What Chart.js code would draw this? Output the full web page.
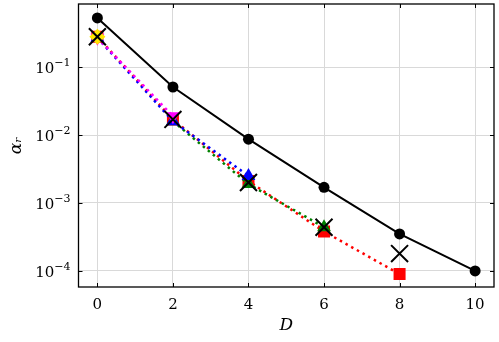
<!DOCTYPE html>
<html>
<head>
<meta charset="utf-8">
<script src="https://cdn.jsdelivr.net/npm/chart.js@4/dist/chart.umd.min.js"></script>
<style>
  html, body { margin: 0; padding: 0; background: #fff; }
  #wrap { width: 499px; height: 342px; }
</style>
</head>
<body>
<div id="wrap"><canvas id="c"></canvas></div>
<script>
// values
const dAll = [0, 2, 4, 6, 8, 10];
const alphaCircle = [0.53, 0.051, 0.0087, 0.0017, 0.00035, 0.0001];

const dCross = [0, 2, 4, 6, 8];
const alphaCross = [0.28, 0.017, 0.0020, 0.00044, 0.00018];

const dRed = [0, 2, 4, 6, 8];
const alphaRed = [0.28, 0.017, 0.0021, 0.00038, 0.00009];

const dGreen = [2, 4, 6];
const alphaGreen = [0.016, 0.0019, 0.00044];

const dBlue = [0, 2, 4];
const alphaBlue = [0.27, 0.016, 0.0025];

const dMagenta = [0, 2];
const alphaMagenta = [0.27, 0.019];

const dYellow = [0];
const alphaYellow = [0.28];

const yTicks = [1e-4, 1e-3, 1e-2, 1e-1];
const yTickExp = ["−4", "−3", "−2", "−1"];
const xTicks = [0, 2, 4, 6, 8, 10];

const pts = (xs, ys) => xs.map((x, i) => ({ x, y: ys[i] }));
const FONT = "'DejaVu Serif', serif";

function dotted(label, xs, ys, color, style, radius, rotation) {
  return {
    label, data: pts(xs, ys),
    borderColor: color, backgroundColor: color,
    borderWidth: 2.5, borderDash: [2.5, 4], borderCapStyle: "butt",
    pointStyle: style, pointRadius: radius, pointRotation: rotation || 0,
    pointBorderWidth: 0, pointBackgroundColor: color
  };
}

// frame + inward ticks + 10^n labels, like the matplotlib box
const framePlugin = {
  id: "frame",
  afterDraw(chart) {
    const { ctx, chartArea: a, scales } = chart;
    ctx.save();
    ctx.strokeStyle = "#000";
    ctx.lineWidth = 1.3;
    ctx.strokeRect(a.left, a.top, a.right - a.left, a.bottom - a.top);
    ctx.lineWidth = 1;
    ctx.beginPath();
    xTicks.forEach(v => {
      const px = Math.round(scales.x.getPixelForValue(v)) + 0.5;
      ctx.moveTo(px, a.bottom); ctx.lineTo(px, a.bottom - 4);
      ctx.moveTo(px, a.top); ctx.lineTo(px, a.top + 4);
    });
    yTicks.forEach(v => {
      const py = Math.round(scales.y.getPixelForValue(v)) + 0.5;
      ctx.moveTo(a.left, py); ctx.lineTo(a.left + 4, py);
      ctx.moveTo(a.right, py); ctx.lineTo(a.right - 4, py);
    });
    ctx.stroke();

    // y tick labels as 10 with a raised exponent
    ctx.fillStyle = "#000";
    ctx.textBaseline = "middle";
    yTicks.forEach((v, i) => {
      const py = scales.y.getPixelForValue(v);
      const right = a.left - 8;
      ctx.font = "11px " + FONT;
      ctx.textAlign = "right";
      const ew = ctx.measureText(yTickExp[i]).width;
      ctx.fillText(yTickExp[i], right, py - 4);
      ctx.font = "15px " + FONT;
      ctx.fillText("10", right - ew, py + 2);
    });
    ctx.restore();
  }
};

new Chart(document.getElementById("c"), {
  type: "line",
  data: {
    datasets: [
      {
        label: "full", data: pts(dAll, alphaCircle),
        borderColor: "#000", backgroundColor: "#000", borderWidth: 2,
        pointStyle: "circle", pointRadius: 5.5, pointBorderWidth: 0
      },
      {
        label: "cross", data: pts(dCross, alphaCross), showLine: false,
        borderColor: "#000", backgroundColor: "#000",
        pointStyle: "crossRot", pointRadius: 12, pointBorderWidth: 2
      },
      dotted("yellow", dYellow, alphaYellow, "#ffe600", "rectRot", 8),
      dotted("magenta", dMagenta, alphaMagenta, "#ff00ff", "triangle", 8, 180),
      dotted("blue", dBlue, alphaBlue, "#0000ff", "triangle", 8),
      dotted("green", dGreen, alphaGreen, "#008000", "triangle", 8),
      dotted("red", dRed, alphaRed, "#ff0000", "rect", 8.5)
    ]
  },
  options: {
    responsive: true,
    maintainAspectRatio: false,
    animation: false,
    layout: { autoPadding: false, padding: { top: 4, right: 5, left: 0, bottom: 0 } },
    plugins: { legend: { display: false }, tooltip: { enabled: false } },
    scales: {
      x: {
        type: "linear", min: -0.5, max: 10.5,
        afterBuildTicks: s => { s.ticks = xTicks.map(v => ({ value: v })); },
        afterFit: s => { s.height = 55; s.paddingLeft = 0; s.paddingRight = 0; },
        grid: { color: "#d9d9d9", lineWidth: 1, drawTicks: false },
        border: { display: false },
        ticks: { color: "#000", padding: 9, font: { family: FONT, size: 15 } },
        title: { display: true, text: "D", color: "#000", padding: { top: 0, bottom: 6 },
                 font: { family: FONT, size: 17, style: "italic" } }
      },
      y: {
        type: "logarithmic", min: 5.8e-5, max: 0.85,
        afterBuildTicks: s => { s.ticks = yTicks.map(v => ({ value: v })); },
        afterFit: s => { s.width = 78.5; s.paddingTop = 0; s.paddingBottom = 0; },
        grid: { color: "#d9d9d9", lineWidth: 1, drawTicks: false },
        border: { display: false },
        ticks: { display: false },
        title: { display: true, text: "αᵣ", color: "#000", padding: { top: 6, bottom: 0 },
                 font: { family: FONT, size: 17, style: "italic" } }
      }
    }
  },
  plugins: [framePlugin]
});
</script>
</body>
</html>
